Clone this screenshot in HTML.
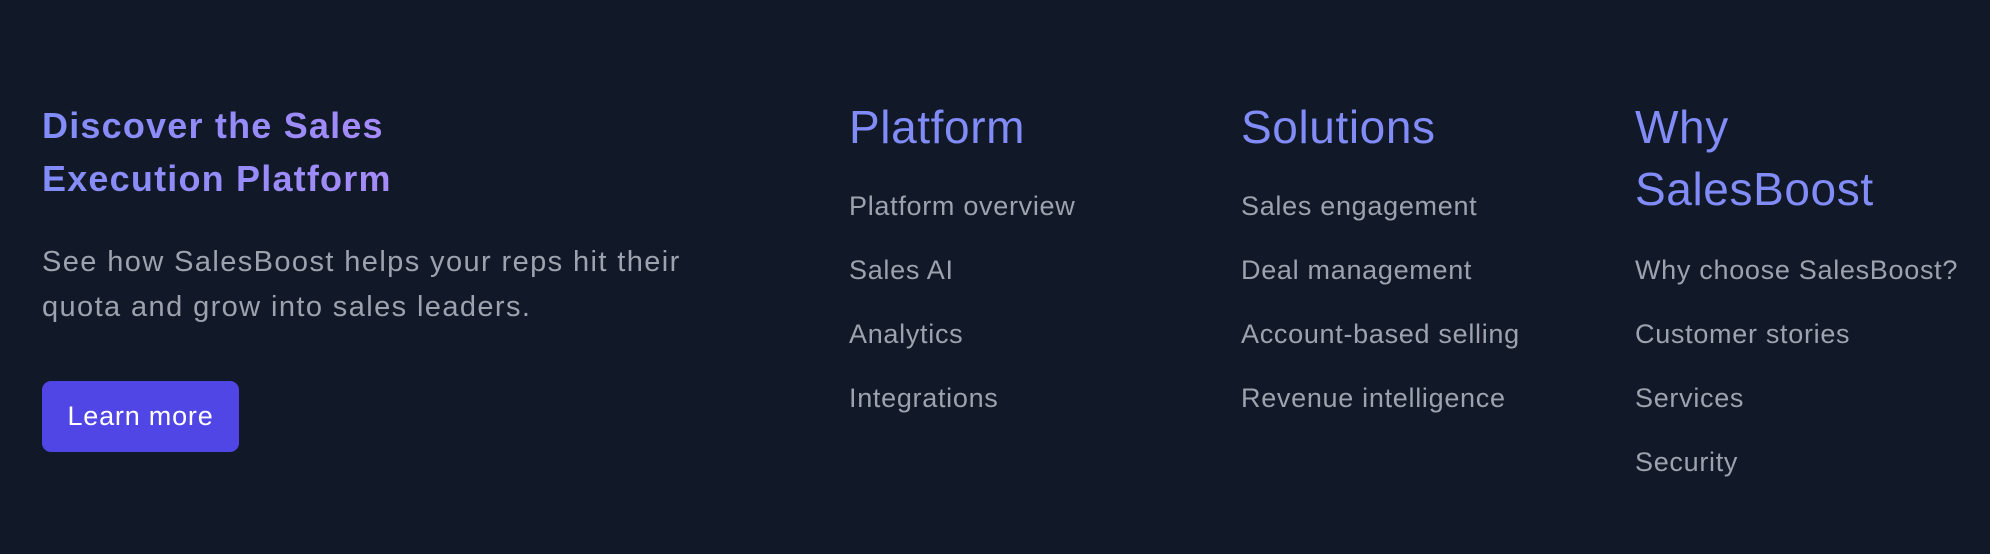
<!DOCTYPE html>
<html><head><meta charset="utf-8"><style>
html,body{margin:0;padding:0;width:1990px;height:554px;background:#111827;overflow:hidden;font-family:"Liberation Sans",sans-serif}
.a{position:absolute;white-space:nowrap}
.t{left:42px;top:99px;font-size:36px;letter-spacing:1.2px;line-height:53px;font-weight:bold;background:linear-gradient(90deg,#818cf8,#a78bfa);-webkit-background-clip:text;background-clip:text;color:transparent}
.p{left:42px;top:240px;font-size:29px;letter-spacing:1.4px;line-height:45px;color:#9ca3af}
.b{left:42px;top:381px;width:197px;height:71px;background:#4f46e5;border-radius:9px;color:#fff;font-size:27px;letter-spacing:0.8px;line-height:71px;text-align:center}
.h{font-size:46px;letter-spacing:0.6px;line-height:62px;color:#818cf8;top:96px}
.l{font-size:27px;letter-spacing:0.7px;line-height:64px;color:#9ca3af}
</style></head><body>
<div class="a t">Discover the Sales<br>Execution Platform</div>
<div class="a p">See how SalesBoost helps your reps hit their<br>quota and grow into sales leaders.</div>
<div class="a b">Learn more</div>
<div class="a h" style="left:849px">Platform</div>
<div class="a l" style="left:849px;top:174px">Platform overview<br>Sales AI<br>Analytics<br>Integrations</div>
<div class="a h" style="left:1241px">Solutions</div>
<div class="a l" style="left:1241px;top:174px">Sales engagement<br>Deal management<br>Account-based selling<br>Revenue intelligence</div>
<div class="a h" style="left:1635px">Why<br>SalesBoost</div>
<div class="a l" style="left:1635px;top:238px">Why choose SalesBoost?<br>Customer stories<br>Services<br>Security</div>
</body></html>
